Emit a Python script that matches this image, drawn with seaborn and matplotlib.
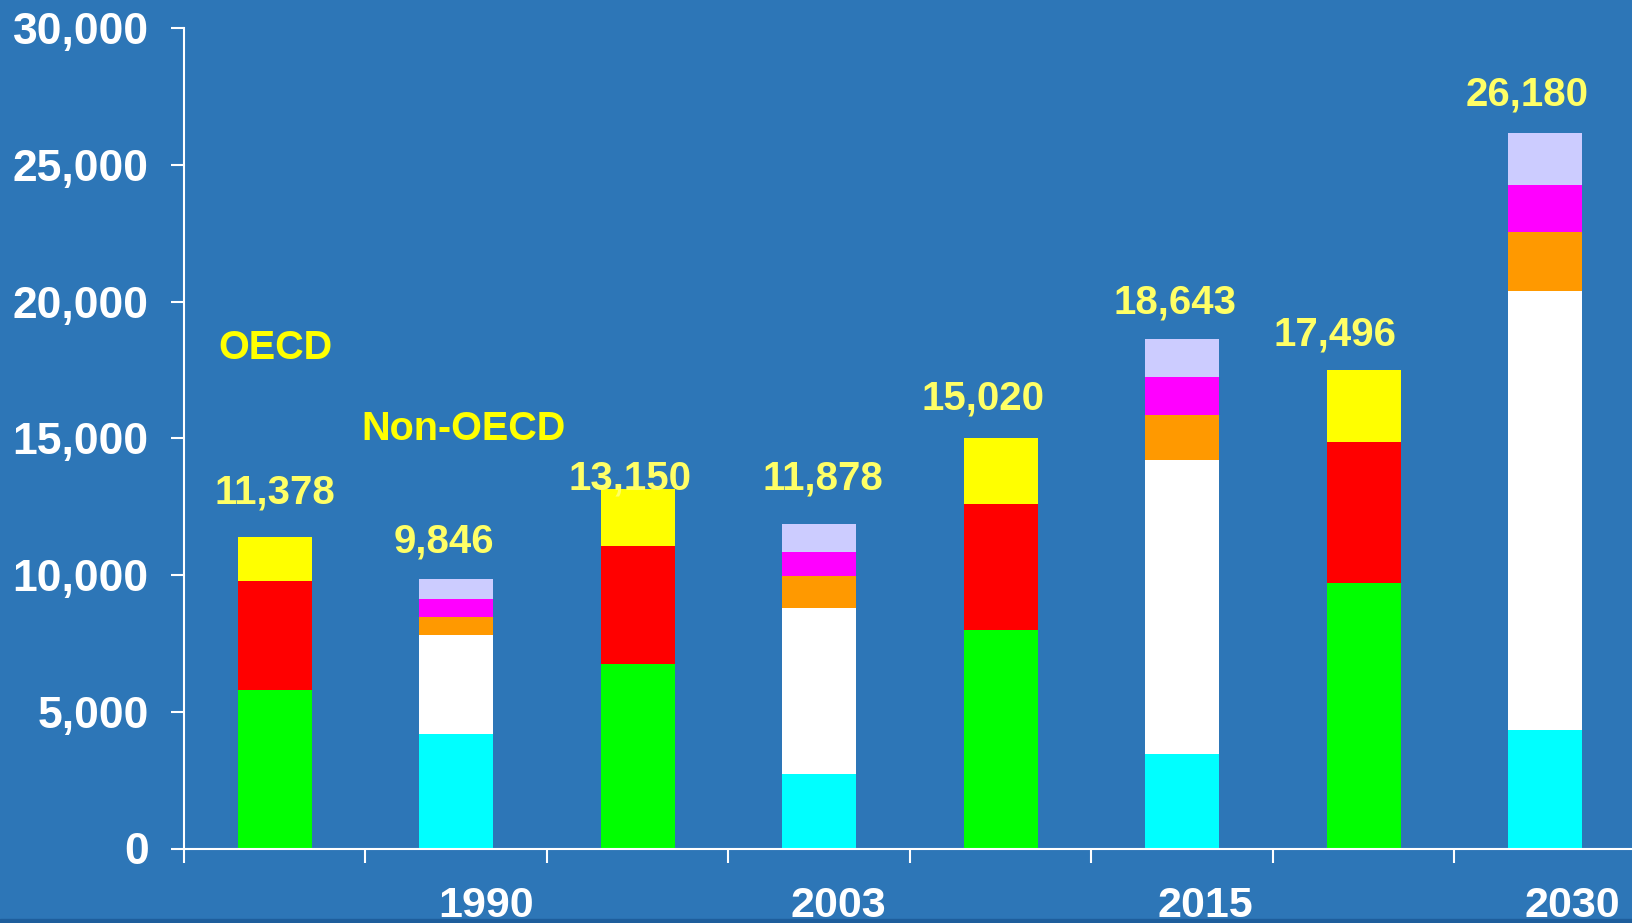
import numpy as np
import pandas as pd
import matplotlib.pyplot as plt
from matplotlib import font_manager
from matplotlib.patches import Rectangle
import seaborn as sns

# Stacked components per bar (OECD bars use green/red/yellow, Non-OECD the rest)
categories = ["1990 OECD", "1990 Non-OECD", "2003 OECD", "2003 Non-OECD",
              "2015 OECD", "2015 Non-OECD", "2030 OECD", "2030 Non-OECD"]
green = [5780, 0, 6760, 0, 8000, 0, 9710, 0]
red = [4020, 0, 4300, 0, 4600, 0, 5150, 0]
yellow = [1578, 0, 2090, 0, 2420, 0, 2636, 0]
cyan = [0, 4200, 0, 2740, 0, 3470, 0, 4340]
white = [0, 3625, 0, 6060, 0, 10730, 0, 16060]
orange = [0, 656, 0, 1180, 0, 1650, 0, 2140]
magenta = [0, 657, 0, 870, 0, 1390, 0, 1720]
lavender = [0, 708, 0, 1028, 0, 1403, 0, 1920]
totals = [11378, 9846, 13150, 11878, 15020, 18643, 17496, 26180]

years = ["1990", "2003", "2015", "2030"]
yticks = [0, 5000, 10000, 15000, 20000, 25000, 30000]

layer_colors = {
    "green": "#00FF00", "red": "#FF0000", "yellow": "#FFFF00",
    "cyan": "#00FFFF", "white": "#FFFFFF", "orange": "#FF9900",
    "magenta": "#FF00FF", "lavender": "#CCCCFF",
}
df = pd.DataFrame({"green": green, "red": red, "yellow": yellow, "cyan": cyan,
                   "white": white, "orange": orange, "magenta": magenta,
                   "lavender": lavender}, index=categories)
order = list(layer_colors.keys())
cum = df[order].cumsum(axis=1)

sns.set_theme(style="white")
plt.rcParams['font.family'] = ['Liberation Sans', 'DejaVu Sans']

# year labels are in a narrow face in the original; use it if present
year_family, year_size = "Liberation Sans", 31
try:
    font_manager.findfont(font_manager.FontProperties(family="Liberation Sans Narrow", weight="bold"),
                          fallback_to_default=False)
    year_family, year_size = "Liberation Sans Narrow", 35
except ValueError:
    pass

bg = "#2D76B7"
fig = plt.figure(figsize=(16.33, 9.23), dpi=100, facecolor=bg)
ax = fig.add_axes([184 / 1633, 1 - 848.5 / 923, 1452 / 1633, 820.2 / 923])
ax.set_facecolor(bg)

# draw cumulative bars from the top layer down so lower layers paint over
cats = np.array(categories)
for name in reversed(order):
    mask = (df[name] > 0).values
    sns.barplot(x=cats[mask], y=cum.loc[mask, name].values, order=categories,
                color=layer_colors[name], saturation=1, width=0.41,
                linewidth=0, errorbar=None, ax=ax)

ax.set_xlim(-0.5, 7.5)
ax.set_ylim(0, 30000)
ax.set_xlabel("")
ax.set_ylabel("")

ax.set_xticks(np.arange(-0.5, 8, 1))
ax.set_xticklabels([])
ax.set_yticks(yticks)
ax.set_yticklabels([f"{v:,}" for v in yticks], color="white",
                   fontsize=32, fontweight="bold")
ax.tick_params(axis="x", length=10, width=1.5, color="white", direction="out", bottom=True)
ax.tick_params(axis="y", length=9.4, width=1.5, color="white", direction="out",
               pad=16, left=True)
for s in ["top", "right"]:
    ax.spines[s].set_visible(False)
for s in ["left", "bottom"]:
    ax.spines[s].set_color("white")
    ax.spines[s].set_linewidth(1.5)

# value labels above bars (offsets are manual, as in the original slide)
label_dx = [0, -0.07, -0.045, 0.02, -0.1, -0.04, -0.16, -0.1]
label_dy = [1230, 970, -20, 1250, 1030, 910, 890, 990]
for i, t in enumerate(totals):
    ax.text(i + label_dx[i], t + label_dy[i], f"{t:,}", ha="center", va="baseline",
            fontsize=29, fontweight="bold", color="#FFFF66", zorder=5)

ax.text(-0.313, 17900, "OECD", ha="left", va="baseline", fontsize=28.5,
        fontweight="bold", color="#FFFF00")
ax.text(0.475, 14940, "Non-OECD", ha="left", va="baseline", fontsize=28.5,
        fontweight="bold", color="#FFFF00")

year_x = [1.166, 3.105, 5.125, 7.151]
for x, y in zip(year_x, years):
    ax.text(x, -0.0835, y, transform=ax.get_xaxis_transform(), ha="center",
            va="baseline", fontsize=year_size, fontweight="bold", color="white",
            family=[year_family, "DejaVu Sans"], clip_on=False)

fig.patches.append(Rectangle((0, 0), 1, 4 / 923, transform=fig.transFigure,
                             color="#1E5E9C", zorder=-1))

fig.savefig("out.png", dpi=100, facecolor=bg)
